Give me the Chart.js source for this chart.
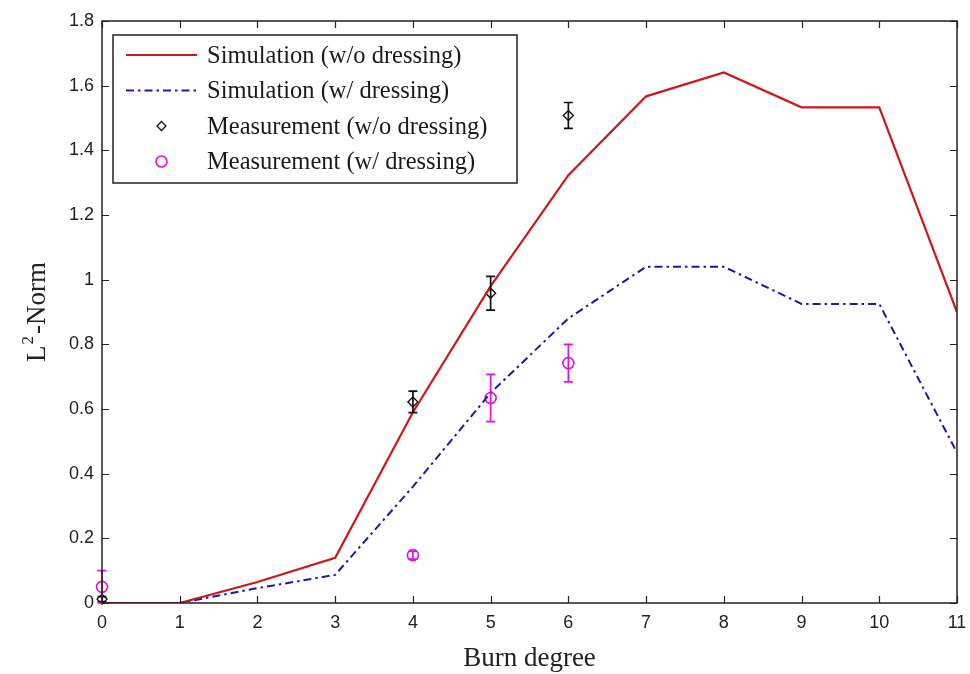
<!DOCTYPE html>
<html>
<head>
<meta charset="utf-8">
<script src="https://cdn.jsdelivr.net/npm/chart.js@4.4.1/dist/chart.umd.min.js"></script>
<style>
  html, body { margin: 0; padding: 0; background: #fff; }
  #wrap { width: 970px; height: 674px; }
</style>
</head>
<body>
<div id="wrap"><canvas id="c" width="970" height="674"></canvas></div>
<script>
// ---- data ----
const burnDegree = [0, 1, 2, 3, 4, 5, 6, 7, 8, 9, 10, 11];
const simNoDressing = [0, 0, 0.065, 0.14, 0.59, 0.98, 1.323, 1.567, 1.641, 1.533, 1.533, 0.9];
const simDressing = [0, 0, 0.046, 0.087, 0.36, 0.65, 0.88, 1.04, 1.04, 0.925, 0.925, 0.465];
const measX = [0, 4, 5, 6];
const measNoDressing = [0.012, 0.622, 0.958, 1.508];
const errNoDressing = [0.008, 0.033, 0.052, 0.04];
const measDressing = [0.05, 0.148, 0.634, 0.742];
const errDressing = [0.05, 0.012, 0.073, 0.058];
const xTicks = [0, 1, 2, 3, 4, 5, 6, 7, 8, 9, 10, 11];
const yTicks = [0, 0.2, 0.4, 0.6, 0.8, 1, 1.2, 1.4, 1.6, 1.8];
const legendLabels = [
  'Simulation (w/o dressing)',
  'Simulation (w/ dressing)',
  'Measurement (w/o dressing)',
  'Measurement (w/ dressing)'
];
const xTitle = 'Burn degree';

const RED = '#d0161c';
const BLUE = '#1a1aa6';
const BLACK = '#111111';
const MAGENTA = '#e010e0';

const pts = (xs, ys) => xs.map((x, i) => ({ x: x, y: ys[i] }));

const framePlugin = {
  id: 'frame',
  afterDatasetsDraw(chart) {
    const { ctx, scales } = chart;
    // error bars
    chart.data.datasets.forEach((ds) => {
      if (!ds.errors) return;
      ctx.save();
      ctx.strokeStyle = ds.borderColor;
      ctx.lineWidth = 1.7;
      ds.data.forEach((p, i) => {
        const e = ds.errors[i];
        const px = scales.x.getPixelForValue(p.x);
        const y1 = scales.y.getPixelForValue(p.y + e);
        const y2 = scales.y.getPixelForValue(p.y - e);
        ctx.beginPath();
        ctx.moveTo(px, y1); ctx.lineTo(px, y2);
        ctx.moveTo(px - 4.5, y1); ctx.lineTo(px + 4.5, y1);
        ctx.moveTo(px - 4.5, y2); ctx.lineTo(px + 4.5, y2);
        ctx.stroke();
      });
      ctx.restore();
    });
  },
  afterDraw(chart) {
    const { ctx, chartArea: a, scales } = chart;
    ctx.save();
    // frame
    ctx.strokeStyle = '#222';
    ctx.lineWidth = 1.5;
    ctx.strokeRect(a.left, a.top, a.right - a.left, a.bottom - a.top);
    // inward ticks on all sides
    ctx.lineWidth = 1.2;
    ctx.beginPath();
    const tl = 7;
    xTicks.forEach(v => {
      const px = Math.round(scales.x.getPixelForValue(v)) + 0.5;
      ctx.moveTo(px, a.bottom); ctx.lineTo(px, a.bottom - tl);
      ctx.moveTo(px, a.top); ctx.lineTo(px, a.top + tl);
    });
    yTicks.forEach(v => {
      const py = Math.round(scales.y.getPixelForValue(v)) + 0.5;
      ctx.moveTo(a.left, py); ctx.lineTo(a.left + tl, py);
      ctx.moveTo(a.right, py); ctx.lineTo(a.right - tl, py);
    });
    ctx.stroke();

    // axis titles
    ctx.fillStyle = '#222';
    ctx.font = '27px "Liberation Serif"';
    ctx.textAlign = 'center';
    ctx.textBaseline = 'alphabetic';
    ctx.fillText(xTitle, (a.left + a.right) / 2, 666);

    // y title: L^2-Norm rotated
    ctx.save();
    ctx.translate(45, 312);
    ctx.rotate(-Math.PI / 2);
    ctx.textAlign = 'left';
    const big = '27px "Liberation Serif"';
    const small = '17px "Liberation Serif"';
    ctx.font = big;
    const wL = ctx.measureText('L').width;
    ctx.font = small;
    const w2 = ctx.measureText('2').width;
    ctx.font = big;
    const wRest = ctx.measureText('-Norm').width;
    const total = wL + w2 + 3 + wRest;
    const x0 = -total / 2;
    ctx.fillText('L', x0, 0);
    ctx.font = small;
    ctx.fillText('2', x0 + wL + 1, -12);
    ctx.font = big;
    ctx.fillText('-Norm', x0 + wL + w2 + 3, 0);
    ctx.restore();

    // legend
    const lx = 113, ly = 35, lw = 404, lh = 148;
    ctx.fillStyle = '#fff';
    ctx.fillRect(lx, ly, lw, lh);
    ctx.strokeStyle = '#222';
    ctx.lineWidth = 1.5;
    ctx.strokeRect(lx, ly, lw, lh);
    const rows = [55, 90.5, 126, 161.5];
    ctx.font = '24.5px "Liberation Serif"';
    ctx.textAlign = 'left';
    ctx.textBaseline = 'alphabetic';
    const baselines = [63, 98, 134, 169];
    legendLabels.forEach((t, i) => {
      ctx.fillStyle = '#1a1a1a';
      ctx.fillText(t, 207, baselines[i]);
    });
    // samples
    ctx.lineWidth = 2;
    ctx.strokeStyle = RED;
    ctx.setLineDash([]);
    ctx.beginPath(); ctx.moveTo(126, rows[0]); ctx.lineTo(197, rows[0]); ctx.stroke();
    ctx.strokeStyle = BLUE;
    ctx.setLineDash([8, 4, 2.5, 4]);
    ctx.beginPath(); ctx.moveTo(126, rows[1]); ctx.lineTo(197, rows[1]); ctx.stroke();
    ctx.setLineDash([]);
    // diamond
    ctx.strokeStyle = BLACK;
    ctx.lineWidth = 1.3;
    const cx = 161.5, r = 4.5;
    ctx.beginPath();
    ctx.moveTo(cx, rows[2] - r); ctx.lineTo(cx + r, rows[2]); ctx.lineTo(cx, rows[2] + r); ctx.lineTo(cx - r, rows[2]); ctx.closePath();
    ctx.stroke();
    // circle
    ctx.strokeStyle = MAGENTA;
    ctx.lineWidth = 1.6;
    ctx.beginPath(); ctx.arc(cx, rows[3], 5.5, 0, Math.PI * 2); ctx.stroke();
    ctx.restore();
  }
};

new Chart(document.getElementById('c'), {
  type: 'scatter',
  data: {
    datasets: [
      {
        label: legendLabels[0],
        data: pts(burnDegree, simNoDressing),
        showLine: true,
        borderColor: RED,
        backgroundColor: RED,
        borderWidth: 2.2,
        pointRadius: 0,
        tension: 0
      },
      {
        label: legendLabels[1],
        data: pts(burnDegree, simDressing),
        showLine: true,
        borderColor: BLUE,
        backgroundColor: BLUE,
        borderWidth: 2,
        borderDash: [8, 4, 2.5, 4],
        pointRadius: 0,
        tension: 0
      },
      {
        label: legendLabels[2],
        data: pts(measX, measNoDressing),
        errors: errNoDressing,
        borderColor: BLACK,
        backgroundColor: 'rgba(0,0,0,0)',
        pointStyle: 'rectRot',
        pointRadius: 5,
        pointBorderWidth: 1.4,
        clip: false
      },
      {
        label: legendLabels[3],
        data: pts(measX, measDressing),
        errors: errDressing,
        borderColor: MAGENTA,
        backgroundColor: 'rgba(0,0,0,0)',
        pointStyle: 'circle',
        pointRadius: 5.5,
        pointBorderWidth: 1.6,
        clip: false
      }
    ]
  },
  options: {
    responsive: false,
    animation: false,
    events: [],
    layout: { padding: { left: 0, right: 13, top: 21, bottom: 0 } },
    plugins: {
      legend: { display: false },
      tooltip: { enabled: false },
      title: { display: false }
    },
    scales: {
      x: {
        type: 'linear',
        min: 0, max: 11,
        afterBuildTicks(s) { s.ticks = xTicks.map(v => ({ value: v })); },
        afterFit(s) { s.height = 71; s.paddingLeft = 0; s.paddingRight = 0; },
        grid: { display: false, drawTicks: false },
        border: { display: false },
        ticks: {
          padding: 9,
          color: '#222',
          font: { family: '"Liberation Sans"', size: 18 },
          callback: v => String(v)
        }
      },
      y: {
        type: 'linear',
        min: 0, max: 1.8,
        afterBuildTicks(s) { s.ticks = yTicks.map(v => ({ value: v })); },
        afterFit(s) { s.width = 102; s.paddingTop = 0; s.paddingBottom = 0; },
        grid: { display: false, drawTicks: false },
        border: { display: false },
        ticks: {
          padding: 8,
          color: '#222',
          font: { family: '"Liberation Sans"', size: 18 },
          callback: v => String(Math.round(v * 10) / 10)
        }
      }
    }
  },
  plugins: [framePlugin]
});
</script>
</body>
</html>
